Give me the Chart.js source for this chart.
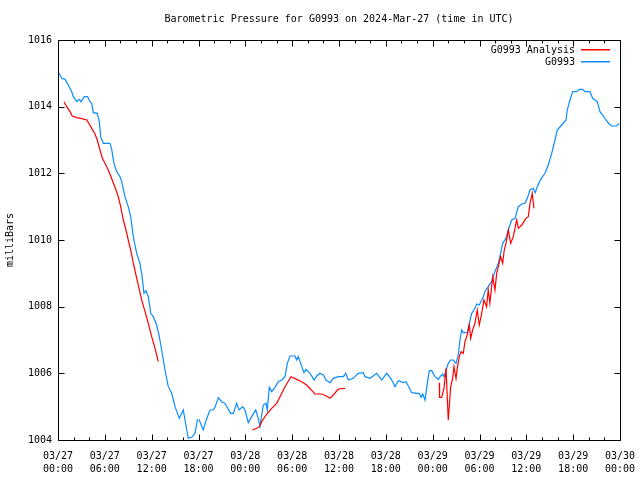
<!DOCTYPE html>
<html>
<head>
<meta charset="utf-8">
<script src="https://cdn.jsdelivr.net/npm/chart.js@4"></script>
<style>
html,body{margin:0;padding:0;background:#fff;}
canvas{display:block;}
</style>
</head>
<body>
<canvas id="c" width="640" height="480"></canvas>
<script>
// Hours since 2024-03-27 00:00 UTC
const stationHours = [0.13,0.47,0.9,1.32,1.75,1.96,2.4,2.69,2.95,3.37,3.8,4.1,4.32,4.52,5.03,5.29,5.47,5.8,6.66,6.88,7.17,7.52,7.94,8.16,8.58,9.0,9.31,9.65,10.08,10.5,10.72,11.02,11.27,11.57,11.88,12.21,12.64,12.98,13.28,13.71,14.13,14.57,14.99,15.54,15.85,16.05,16.27,16.69,17.13,17.55,17.85,18.1,18.61,18.96,19.47,19.9,20.11,20.54,20.97,21.39,22.12,22.46,22.89,23.19,23.66,23.96,24.38,24.81,25.33,25.66,25.88,26.1,26.3,26.65,26.81,27.07,27.38,27.8,28.22,28.66,29.08,29.38,29.72,30.36,30.58,30.78,31.09,31.51,31.77,32.28,32.83,33.14,33.56,33.99,34.33,34.85,35.27,35.91,36.55,36.86,37.19,37.83,38.47,39.11,39.33,39.97,40.83,41.47,42.11,42.53,42.88,43.17,43.6,44.24,44.58,44.88,45.31,45.95,46.28,46.5,46.72,47.02,47.31,47.57,47.87,48.3,48.72,49.03,49.28,49.45,49.8,50.0,50.31,50.64,50.99,51.28,51.5,51.72,51.92,52.43,52.69,53.0,53.29,53.64,53.97,54.4,54.7,55.12,55.56,55.98,56.41,56.71,56.97,57.39,57.69,58.12,58.55,58.97,59.4,59.83,60.12,60.47,60.89,61.15,61.4,61.84,62.39,62.81,63.25,63.67,63.96,64.53,65.08,65.24,65.59,65.94,66.45,66.78,67.22,67.51,68.15,68.5,68.79,69.09,69.43,69.78,70.2,70.63,70.93,71.57,71.9];
const stationPressure = [1015.0,1014.85,1014.82,1014.65,1014.45,1014.3,1014.15,1014.22,1014.15,1014.3,1014.3,1014.15,1014.1,1013.82,1013.8,1013.55,1013.1,1012.9,1012.9,1012.72,1012.3,1012.05,1011.9,1011.75,1011.3,1011.0,1010.7,1010.1,1009.6,1009.3,1009.0,1008.4,1008.48,1008.3,1007.8,1007.7,1007.45,1007.1,1006.7,1006.1,1005.6,1005.4,1005.0,1004.65,1004.8,1004.9,1004.6,1004.05,1004.08,1004.2,1004.6,1004.6,1004.3,1004.58,1004.9,1004.9,1004.98,1005.27,1005.15,1005.1,1004.8,1004.8,1005.1,1004.9,1005.0,1004.9,1004.52,1004.7,1004.9,1004.65,1004.4,1004.75,1005.05,1005.1,1004.9,1005.58,1005.45,1005.58,1005.75,1005.8,1005.9,1006.3,1006.52,1006.52,1006.4,1006.5,1006.3,1006.02,1006.12,1006.0,1005.8,1005.92,1006.0,1005.95,1005.8,1005.72,1005.85,1005.9,1005.9,1006.0,1005.8,1005.85,1006.0,1006.02,1005.9,1005.85,1006.0,1005.8,1006.0,1005.88,1005.75,1005.6,1005.78,1005.72,1005.75,1005.62,1005.42,1005.4,1005.4,1005.28,1005.38,1005.2,1005.7,1006.08,1006.08,1005.9,1005.82,1005.92,1005.98,1005.9,1006.15,1006.3,1006.4,1006.4,1006.3,1006.55,1007.0,1007.3,1007.22,1007.22,1007.5,1007.8,1007.9,1008.08,1008.05,1008.25,1008.45,1008.6,1008.75,1009.05,1009.3,1009.6,1009.9,1010.05,1010.3,1010.6,1010.65,1011.0,1011.08,1011.1,1011.25,1011.5,1011.55,1011.42,1011.6,1011.82,1012.0,1012.25,1012.6,1013.0,1013.3,1013.45,1013.6,1013.9,1014.2,1014.45,1014.45,1014.52,1014.52,1014.45,1014.45,1014.25,1014.2,1014.15,1013.85,1013.75,1013.6,1013.48,1013.42,1013.42,1013.5];

// null entries mark gaps in the analysis series
const analysisHours = [0.77,1.11,1.54,1.83,2.4,3.04,3.68,4.01,4.32,4.74,5.03,5.38,5.68,6.02,6.44,6.79,7.08,7.43,7.72,8.03,8.37,8.71,9.0,9.31,9.65,9.99,10.38,10.72,11.15,11.57,12.0,12.43,12.85,
  18.0,
  24.89,25.46,25.79,26.1,26.65,27.38,28.02,28.44,29.08,29.85,30.58,31.22,31.86,32.92,33.78,34.33,34.85,35.27,35.91,36.77,
  42.0,
  48.85,48.88,49.15,49.45,49.71,50.0,50.13,50.31,50.56,50.73,50.99,51.15,51.41,51.63,51.92,52.14,52.43,52.69,52.87,53.12,53.42,53.71,53.97,54.28,54.57,54.91,55.12,55.33,55.69,55.98,56.2,56.41,56.71,56.97,57.17,57.39,57.69,57.99,58.33,58.76,58.97,59.4,59.95,60.25,60.47,60.76,60.98];
const analysisPressure = [1014.15,1014.0,1013.85,1013.72,1013.67,1013.64,1013.6,1013.48,1013.35,1013.18,1013.0,1012.7,1012.45,1012.3,1012.1,1011.9,1011.72,1011.5,1011.3,1011.0,1010.6,1010.3,1010.0,1009.7,1009.3,1008.95,1008.55,1008.2,1007.85,1007.5,1007.1,1006.75,1006.35,
  null,
  1004.3,1004.35,1004.4,1004.55,1004.75,1004.95,1005.1,1005.3,1005.6,1005.9,1005.82,1005.75,1005.65,1005.38,1005.38,1005.33,1005.25,1005.35,1005.53,1005.55,
  null,
  1005.72,1005.28,1005.28,1005.55,1006.15,1004.6,1005.02,1005.6,1005.85,1006.2,1005.85,1006.15,1006.5,1006.65,1006.6,1006.95,1007.15,1007.45,1007.05,1007.3,1007.5,1007.9,1007.45,1007.8,1008.2,1008.0,1008.5,1008.1,1008.9,1008.5,1009.0,1009.2,1009.5,1009.3,1009.7,1009.9,1010.3,1009.9,1010.1,1010.6,1010.35,1010.45,1010.65,1010.7,1011.1,1011.4,1010.95];

const dayLabels = ['03/27','03/27','03/27','03/27','03/28','03/28','03/28','03/28','03/29','03/29','03/29','03/29','03/30'];
const timeLabels = ['00:00','06:00','12:00','18:00','00:00','06:00','12:00','18:00','00:00','06:00','12:00','18:00','00:00'];
const seriesNames = ['G0993 Analysis','G0993'];
const seriesColors = ['#ff0000','#0a8cff'];
const chartTitle = 'Barometric Pressure for G0993 on 2024-Mar-27 (time in UTC)';

const FONT = 'DejaVu Sans Mono';

const frame = {
  id: 'frame',
  beforeDraw(chart) {
    const ctx = chart.ctx;
    ctx.save();
    ctx.fillStyle = '#fff';
    ctx.fillRect(0, 0, chart.width, chart.height);
    ctx.restore();
  },
  afterDraw(chart) {
    const ctx = chart.ctx, a = chart.chartArea;
    const xs = chart.scales.x, ys = chart.scales.y;
    ctx.save();
    ctx.strokeStyle = '#000';
    ctx.lineWidth = 1;
    const L = Math.round(a.left) + 0.5, R = Math.round(a.right) + 0.5;
    const T = Math.round(a.top) + 0.5, B = Math.round(a.bottom) + 0.5;
    ctx.beginPath();
    ctx.rect(L, T, R - L, B - T);
    // x ticks every 2 h, major every 6 h
    for (let h = 0; h <= 72; h += 2) {
      const px = Math.round(xs.getPixelForValue(h)) + 0.5;
      const len = (h % 6 === 0) ? 6 : 3;
      ctx.moveTo(px, B); ctx.lineTo(px, B - len);
      ctx.moveTo(px, T); ctx.lineTo(px, T + len);
    }
    for (let p = 1004; p <= 1016; p += 2) {
      const py = Math.round(ys.getPixelForValue(p)) + 0.5;
      ctx.moveTo(L, py); ctx.lineTo(L + 6, py);
      ctx.moveTo(R, py); ctx.lineTo(R - 6, py);
    }
    ctx.stroke();
    // title centred over the plot area
    ctx.font = '10px "' + FONT + '"';
    ctx.fillStyle = '#000';
    ctx.textAlign = 'center';
    ctx.textBaseline = 'middle';
    ctx.fillText(chartTitle, (a.left + a.right) / 2, 19);
    // legend
    ctx.textAlign = 'right';
    const rows = [50, 62];
    seriesNames.forEach((name, i) => {
      ctx.fillStyle = '#000';
      ctx.fillText(name, 575, rows[i]);
      ctx.fillStyle = seriesColors[i];
      ctx.fillRect(581, rows[i] - 1, 29, 1.5);
    });
    ctx.restore();
  }
};

new Chart(document.getElementById('c'), {
  type: 'line',
  data: {
    datasets: [
      {
        label: seriesNames[0],
        data: analysisHours.map((h, i) => ({x: h, y: analysisPressure[i]})),
        borderColor: seriesColors[0],
        borderWidth: 1.2,
        pointRadius: 0,
        spanGaps: false,
        tension: 0
      },
      {
        label: seriesNames[1],
        data: stationHours.map((h, i) => ({x: h, y: stationPressure[i]})),
        borderColor: seriesColors[1],
        borderWidth: 1.2,
        pointRadius: 0,
        tension: 0
      }
    ]
  },
  options: {
    responsive: false,
    animation: false,
    layout: { padding: { left: 0, right: 20, top: 40, bottom: 0 } },
    plugins: {
      legend: { display: false },
      tooltip: { enabled: false },
      title: { display: false }
    },
    scales: {
      x: {
        type: 'linear',
        min: 0, max: 72,
        grid: { display: false },
        border: { display: false },
        afterFit(s) { s.height = 40; s.paddingLeft = 0; s.paddingRight = 0; },
        afterBuildTicks(s) {
          s.ticks = [];
          for (let h = 0; h <= 72; h += 6) s.ticks.push({ value: h });
        },
        ticks: {
          color: '#000',
          maxRotation: 0,
          autoSkip: false,
          padding: 2,
          font: { family: FONT, size: 10, lineHeight: 1.3 },
          callback: (v) => { const i = Math.round(v / 6); return [dayLabels[i], timeLabels[i]]; }
        }
      },
      y: {
        min: 1004, max: 1016,
        grid: { display: false, drawTicks: false, tickLength: 0 },
        border: { display: false },
        afterFit(s) { s.width = 58; },
        ticks: {
          stepSize: 2,
          color: '#000',
          padding: 6,
          font: { family: FONT, size: 10 },
          callback: (v) => String(v)
        },
        title: {
          display: true,
          text: 'milliBars',
          color: '#000',
          font: { family: FONT, size: 10 },
          padding: { top: 4, bottom: 0 }
        }
      }
    }
  },
  plugins: [frame]
});
</script>
</body>
</html>
